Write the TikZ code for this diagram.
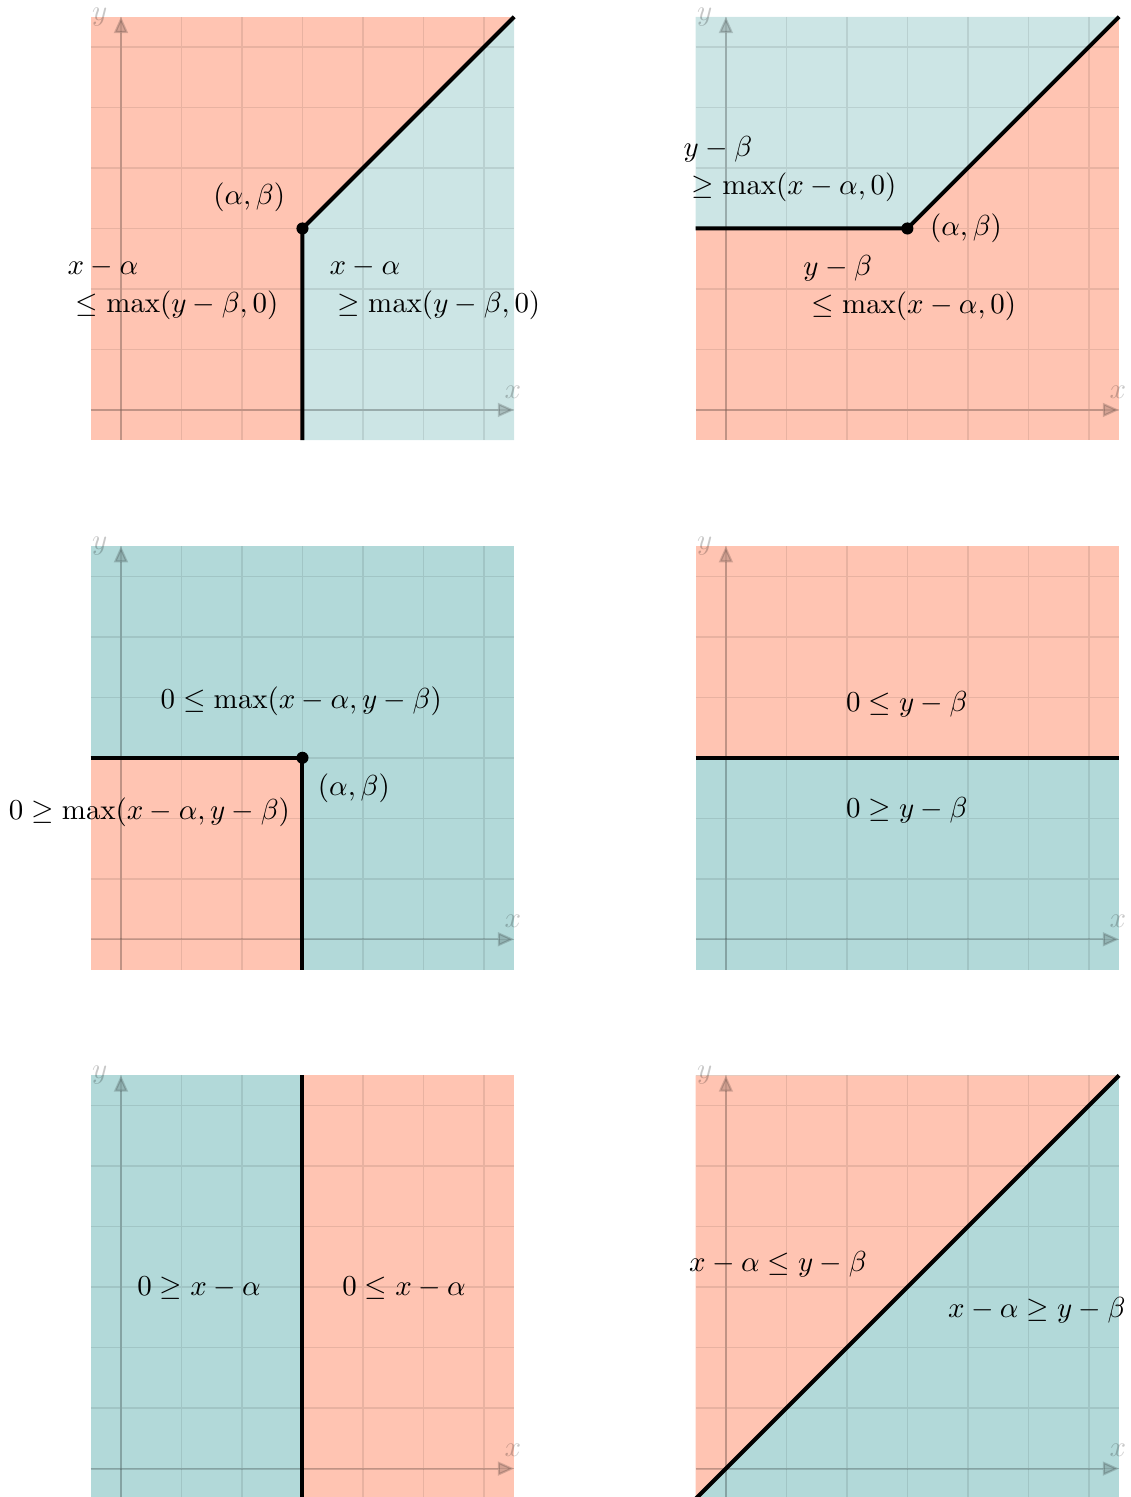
\documentclass[tikz,border=0pt]{standalone}
\usepackage{amsmath}
\usepackage{xcolor}
\definecolor{mysalmon}{RGB}{255,196,178}
\colorlet{mytealL}{teal!20}
\colorlet{mytealD}{teal!30}
\usetikzlibrary{arrows.meta}

% faint grid and axes of one panel
\newcommand{\axesgrid}{%
  \draw[gridline] (-0.5cm,-0.5cm) grid (6.5cm,6.5cm);
  \draw[axisline] (-0.5cm,0cm) -- (6.5cm,0cm);
  \draw[axisline] (0cm,-0.5cm) -- (0cm,6.5cm);
  \node[axislabel] at (6.48cm,0.3cm) {\(x\)};
  \node[axislabel] at (-0.35cm,6.5cm) {\(y\)};
}

\begin{document}
\begin{tikzpicture}[
    every node/.style={scale=1.36},
    gridline/.style={black, opacity=0.09, line width=0.7pt},
    axisline/.style={black, opacity=0.17, line width=1pt, -{Triangle[length=0.27cm, width=0.23cm]}},
    axislabel/.style={black, opacity=0.22},
    boundary/.style={line width=1.9pt},
    twoline/.style={align=left}
  ]
  \useasboundingbox (-2cm,-17.97cm) rectangle (16.69cm,6.777cm);

  % panel 1
  \begin{scope}
    \fill[mysalmon] (-0.5cm,-0.5cm) rectangle (6.5cm,6.5cm);
    \fill[mytealL] (3cm,-0.5cm) -- (3cm,3cm) -- (6.5cm,6.5cm) -- (6.5cm,-0.5cm) -- cycle;
    \axesgrid
    \coordinate (ab1) at (3cm,3cm);
    \coordinate (bot1) at (3cm,-0.5cm);
    \coordinate (top1) at (6.5cm,6.5cm);
    \draw[boundary] (bot1) -- (ab1) -- (top1);
    \fill (ab1) circle [radius=0.1cm];
    \node (pt1) at (2.12cm,3.52cm) {\((\alpha,\beta)\)};
    \node[twoline] (le1) at (0.86cm,2.0cm) {\(x-\alpha\)\\[1pt] \({}\le\max(y-\beta,0)\)};
    \node[twoline] (ge1) at (5.19cm,2.0cm) {\(x-\alpha\)\\[1pt] \({}\ge\max(y-\beta,0)\)};
  \end{scope}

  % panel 2
  \begin{scope}[shift={(10cm,0cm)}]
    \fill[mysalmon] (-0.5cm,-0.5cm) rectangle (6.5cm,6.5cm);
    \fill[mytealL] (-0.5cm,3cm) -- (3cm,3cm) -- (6.5cm,6.5cm) -- (-0.5cm,6.5cm) -- cycle;
    \axesgrid
    \coordinate (ab2) at (3cm,3cm);
    \coordinate (left2) at (-0.5cm,3cm);
    \coordinate (top2) at (6.5cm,6.5cm);
    \draw[boundary] (left2) -- (ab2) -- (top2);
    \fill (ab2) circle [radius=0.1cm];
    \node (pt2) at (3.97cm,3.0cm) {\((\alpha,\beta)\)};
    \node[twoline] (ge2) at (1.06cm,3.98cm) {\(y-\beta\)\\[1pt] \({}\ge\max(x-\alpha,0)\)};
    \node[twoline] (le2) at (3.04cm,2.01cm) {\(y-\beta\)\\[1pt] \({}\le\max(x-\alpha,0)\)};
  \end{scope}

  % panel 3
  \begin{scope}[shift={(0cm,-8.75cm)}]
    \fill[mytealD] (-0.5cm,-0.5cm) rectangle (6.5cm,6.5cm);
    \fill[mysalmon] (-0.5cm,-0.5cm) rectangle (3cm,3cm);
    \axesgrid
    \coordinate (ab3) at (3cm,3cm);
    \coordinate (left3) at (-0.5cm,3cm);
    \coordinate (bot3) at (3cm,-0.5cm);
    \draw[boundary] (left3) -- (ab3) -- (bot3);
    \fill (ab3) circle [radius=0.1cm];
    \node (pt3) at (3.85cm,2.5cm) {\((\alpha,\beta)\)};
    \node (le3) at (2.98cm,3.93cm) {\(0\le\max(x-\alpha,y-\beta)\)};
    \node (ge3) at (0.47cm,2.1cm) {\(0\ge\max(x-\alpha,y-\beta)\)};
  \end{scope}

  % panel 4
  \begin{scope}[shift={(10cm,-8.75cm)}]
    \fill[mytealD] (-0.5cm,-0.5cm) rectangle (6.5cm,6.5cm);
    \fill[mysalmon] (-0.5cm,3cm) rectangle (6.5cm,6.5cm);
    \axesgrid
    \coordinate (left4) at (-0.5cm,3cm);
    \coordinate (right4) at (6.5cm,3cm);
    \draw[boundary] (left4) -- (right4);
    \node (le4) at (2.99cm,3.88cm) {\(0\le y-\beta\)};
    \node (ge4) at (2.99cm,2.13cm) {\(0\ge y-\beta\)};
  \end{scope}

  % panel 5
  \begin{scope}[shift={(0cm,-17.5cm)}]
    \fill[mytealD] (-0.5cm,-0.5cm) rectangle (6.5cm,6.5cm);
    \fill[mysalmon] (3cm,-0.5cm) rectangle (6.5cm,6.5cm);
    \axesgrid
    \coordinate (bot5) at (3cm,-0.5cm);
    \coordinate (top5) at (3cm,6.5cm);
    \draw[boundary] (bot5) -- (top5);
    \node (ge5) at (1.29cm,2.98cm) {\(0\ge x-\alpha\)};
    \node (le5) at (4.68cm,2.98cm) {\(0\le x-\alpha\)};
  \end{scope}

  % panel 6
  \begin{scope}[shift={(10cm,-17.5cm)}]
    \fill[mytealD] (-0.5cm,-0.5cm) rectangle (6.5cm,6.5cm);
    \fill[mysalmon] (-0.5cm,-0.5cm) -- (6.5cm,6.5cm) -- (-0.5cm,6.5cm) -- cycle;
    \axesgrid
    \coordinate (bl6) at (-0.5cm,-0.5cm);
    \coordinate (tr6) at (6.5cm,6.5cm);
    \draw[boundary] (bl6) -- (tr6);
    \node (le6) at (0.86cm,3.37cm) {\(x-\alpha\le y-\beta\)};
    \node (ge6) at (5.14cm,2.62cm) {\(x-\alpha\ge y-\beta\)};
  \end{scope}
\end{tikzpicture}
\end{document}
